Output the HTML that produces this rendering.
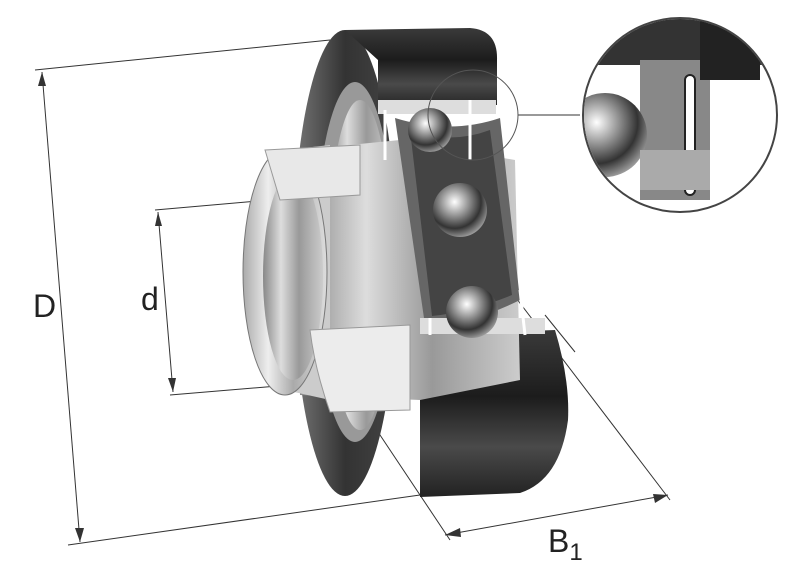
<!DOCTYPE html>
<html><head><style>html,body{margin:0;padding:0;background:#fff}svg{display:block}</style></head>
<body>
<svg width="797" height="582" viewBox="0 0 797 582" xmlns="http://www.w3.org/2000/svg">
<defs>
<linearGradient id="dk" x1="0" y1="0" x2="0" y2="1"><stop offset="0" stop-color="#3a3a3a"/><stop offset=".4" stop-color="#1c1c1c"/><stop offset=".7" stop-color="#4a4a4a"/><stop offset="1" stop-color="#222"/></linearGradient>
<linearGradient id="dkh" x1="0" y1="0" x2="1" y2="0"><stop offset="0" stop-color="#777"/><stop offset=".5" stop-color="#333"/><stop offset="1" stop-color="#444"/></linearGradient>
<linearGradient id="lt" x1="0" y1="0" x2="1" y2="0"><stop offset="0" stop-color="#aaa"/><stop offset=".3" stop-color="#eee"/><stop offset=".6" stop-color="#aaa"/><stop offset="1" stop-color="#ddd"/></linearGradient>
<linearGradient id="mid" x1="0" y1="0" x2="1" y2="0"><stop offset="0" stop-color="#888"/><stop offset=".3" stop-color="#ddd"/><stop offset=".6" stop-color="#999"/><stop offset="1" stop-color="#ccc"/></linearGradient>
<radialGradient id="ball" cx=".4" cy=".35" r=".7"><stop offset="0" stop-color="#fff"/><stop offset=".35" stop-color="#999"/><stop offset=".7" stop-color="#333"/><stop offset="1" stop-color="#aaa"/></radialGradient>
</defs>
<g stroke="#333" stroke-width="1" fill="none">
<line x1="35" y1="70" x2="330" y2="40"/>
<line x1="68" y1="545" x2="420" y2="495"/>
<line x1="42" y1="72" x2="80" y2="542"/>
<line x1="155" y1="210" x2="270" y2="200"/>
<line x1="170" y1="395" x2="290" y2="385"/>
<line x1="158" y1="212" x2="173" y2="392"/>
<line x1="330" y1="360" x2="450" y2="540"/>
<line x1="510" y1="290" x2="670" y2="500"/>
<line x1="545" y1="315" x2="575" y2="352"/>
<line x1="445" y1="535" x2="668" y2="495"/>
<line x1="518" y1="115" x2="580" y2="115"/>
</g>
<polygon points="42,72 38,86 46,86" fill="#333"/>
<polygon points="80,542 75,528 84,528" fill="#333"/>
<polygon points="158,212 155,226 162,226" fill="#333"/>
<polygon points="173,392 168,378 176,378" fill="#333"/>
<polygon points="445,535 460,528 461,537" fill="#333"/>
<polygon points="668,495 653,494 655,503" fill="#333"/>
<ellipse cx="345" cy="263" rx="52" ry="233" fill="url(#dkh)"/>
<path d="M345 30 L470 28 Q498 30 497 60 L497 105 L378 108 L378 60 Z" fill="url(#dk)"/>
<path d="M420 335 L555 330 Q570 380 568 420 Q560 480 520 493 L420 497 Z" fill="url(#dk)"/>
<ellipse cx="355" cy="262" rx="40" ry="180" fill="#999"/>
<ellipse cx="360" cy="265" rx="32" ry="165" fill="url(#mid)"/>
<path d="M300 150 L400 140 L515 160 L520 380 L420 400 L300 395 Z" fill="url(#mid)"/>
<path d="M395 118 Q450 135 500 118 L520 300 Q470 325 425 325 Z" fill="#666"/>
<path d="M410 130 Q450 145 490 130 L512 295 Q470 312 432 316 Z" fill="#444"/>
<rect x="378" y="100" width="118" height="14" fill="#ddd"/>
<rect x="420" y="318" width="125" height="16" fill="#ddd"/>
<circle cx="430" cy="130" r="22" fill="url(#ball)"/>
<circle cx="460" cy="210" r="27" fill="url(#ball)"/>
<circle cx="472" cy="312" r="26" fill="url(#ball)"/>
<path d="M385 110 L385 160 M470 100 L470 160 M430 318 L430 335 M520 290 L525 335" stroke="#fff" stroke-width="3"/>
<path d="M285 150 L330 145 L330 400 L285 390 Z" fill="#ccc"/>
<ellipse cx="285" cy="272" rx="42" ry="123" fill="url(#lt)" stroke="#777"/>
<ellipse cx="293" cy="276" rx="30" ry="104" fill="url(#mid)"/>
<path d="M265 150 L360 145 L360 195 L280 200 Z" fill="#e8e8e8" stroke="#999"/>
<path d="M310 330 L410 325 L410 410 L330 412 Q315 370 310 330Z" fill="#ececec" stroke="#999"/>
<circle cx="473" cy="115" r="45" fill="none" stroke="#555"/>
<circle cx="680" cy="115" r="97" fill="#fff" stroke="#444" stroke-width="2"/>
<clipPath id="c"><circle cx="680" cy="115" r="96"/></clipPath>
<g clip-path="url(#c)">
<rect x="580" y="15" width="200" height="50" fill="#333"/>
<path d="M640 60 L710 60 L710 200 L640 200 Z" fill="#888"/>
<rect x="700" y="20" width="60" height="60" fill="#222"/>
<circle cx="605" cy="135" r="42" fill="url(#ball)"/>
<rect x="685" y="75" width="10" height="120" rx="5" fill="#fff" stroke="#222" stroke-width="2"/>
<rect x="640" y="150" width="70" height="40" fill="#aaa"/>
</g>
<g font-family="Liberation Sans, sans-serif" fill="#222" font-size="32">
<text x="33" y="317">D</text>
<text x="141" y="310">d</text>
<text x="548" y="552">B<tspan font-size="24" dy="8">1</tspan></text>
</g>
</svg>
</body></html>
